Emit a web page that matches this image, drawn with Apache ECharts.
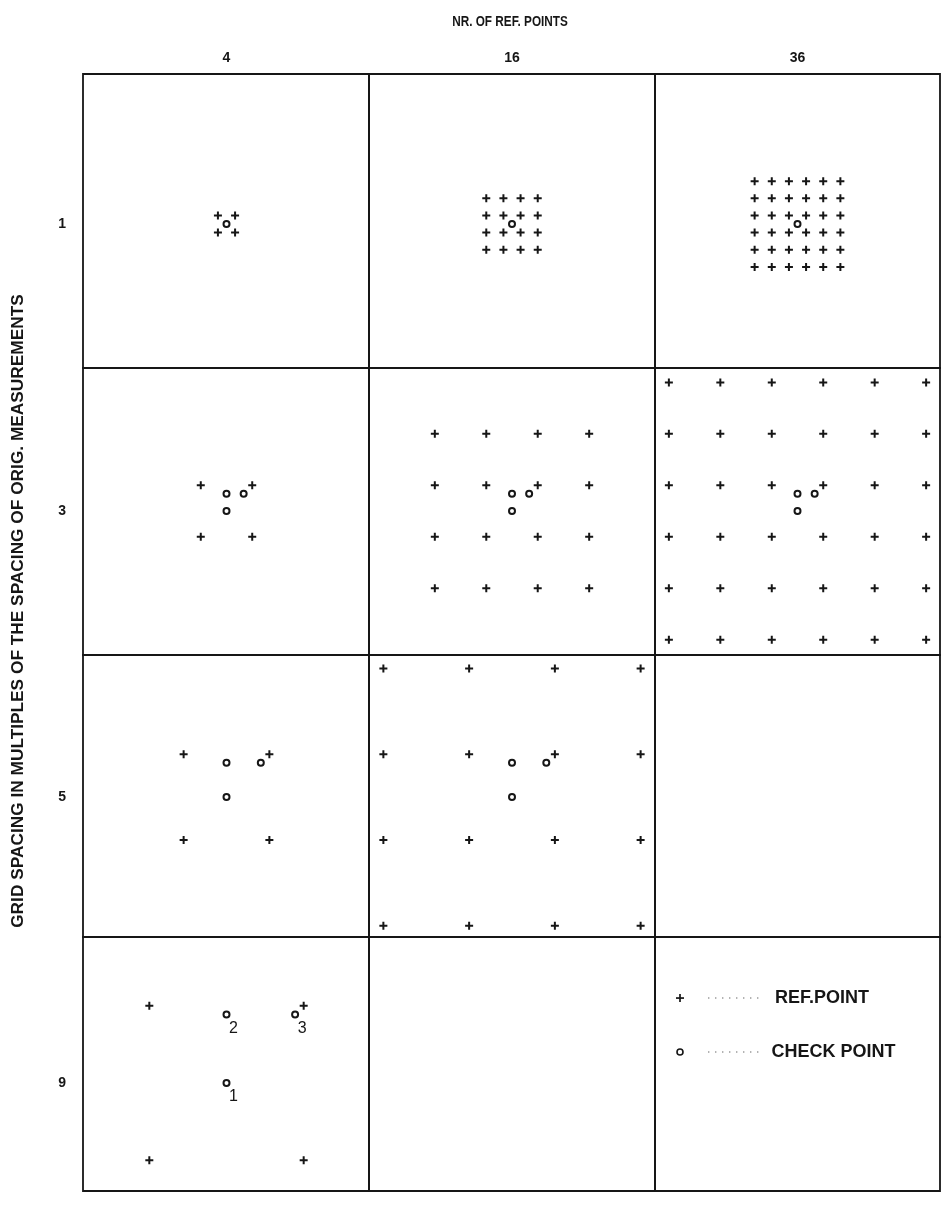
<!DOCTYPE html>
<html>
<head>
<meta charset="utf-8">
<script src="https://cdn.jsdelivr.net/npm/echarts@6/dist/echarts.min.js"></script>
<style>
  html, body { margin: 0; padding: 0; background: #fff; }
  #chart { width: 942px; height: 1231px; }
</style>
</head>
<body>
<div id="chart"></div>
<script>
// ---------- DATA ----------
const colLabels = ['4', '16', '36'];          // number of reference points
const rowLabels = ['1', '3', '5', '9'];       // grid spacing (multiples of original spacing)

// reference point positions (units of original measurement spacing, relative to pattern centre);
// the same list is used for x and y (square patterns)
const refPos_1_4  = [-0.5, 0.5];
const refPos_1_16 = [-1.5, -0.5, 0.5, 1.5];
const refPos_1_36 = [-2.5, -1.5, -0.5, 0.5, 1.5, 2.5];
const refPos_3_4  = [-1.5, 1.5];
const refPos_3_16 = [-4.5, -1.5, 1.5, 4.5];
const refPos_3_36 = [-7.5, -4.5, -1.5, 1.5, 4.5, 7.5];
const refPos_5_4  = [-2.5, 2.5];
const refPos_5_16 = [-7.5, -2.5, 2.5, 7.5];
const refPos_9_4  = [-4.5, 4.5];

// check points [x, y] (same units, y up)
const checkPts_1 = [[0, 0]];
const checkPts_3 = [[0, 0], [0, 1], [1, 1]];
const checkPts_5 = [[0, 0], [0, 2], [2, 2]];
const checkPts_9 = [[0, 0], [0, 4], [4, 4]];
const checkLabels_9 = ['1', '2', '3'];

const titleX = 'NR. OF REF. POINTS';
const titleY = 'GRID SPACING IN MULTIPLES OF THE SPACING OF ORIG. MEASUREMENTS';
const legendNames = ['REF.POINT', 'CHECK POINT'];

// ---------- LAYOUT ----------
const S = 17.15;                             // px per unit
const colEdges = [83, 369, 655, 940];
const rowEdges = [74, 368, 655, 937, 1191];
const colCentres = [226.5, 512, 797.5];
const rowCentres = [224, 511, 797, 1083];
const INK = '#161616';
const FONT = "'Liberation Sans', Arial, sans-serif";

const refSets = {
  '0_0': refPos_1_4, '0_1': refPos_1_16, '0_2': refPos_1_36,
  '1_0': refPos_3_4, '1_1': refPos_3_16, '1_2': refPos_3_36,
  '2_0': refPos_5_4, '2_1': refPos_5_16,
  '3_0': refPos_9_4
};
const checkSets = [checkPts_1, checkPts_3, checkPts_5, checkPts_9];

const PLUS = 'path://M3,0H5V3H8V5H5V8H3V5H0V3H3Z';

const grids = [], xAxes = [], yAxes = [], series = [];
for (let r = 0; r < 4; r++) {
  for (let c = 0; c < 3; c++) {
    const gi = grids.length;
    grids.push({
      left: colEdges[c], top: rowEdges[r],
      width: colEdges[c + 1] - colEdges[c], height: rowEdges[r + 1] - rowEdges[r],
      show: true, borderColor: INK, borderWidth: 1.8, backgroundColor: 'transparent'
    });
    xAxes.push({
      type: 'value', gridIndex: gi, position: 'top',
      min: (colEdges[c] - colCentres[c]) / S, max: (colEdges[c + 1] - colCentres[c]) / S,
      axisLine: { show: false }, axisTick: { show: false }, splitLine: { show: false },
      axisLabel: r === 0 ? {
        show: true, customValues: [0], margin: 9,
        formatter: () => colLabels[c],
        color: INK, fontFamily: FONT, fontWeight: 'bold', fontSize: 14
      } : { show: false }
    });
    yAxes.push({
      type: 'value', gridIndex: gi,
      min: -(rowEdges[r + 1] - rowCentres[r]) / S, max: (rowCentres[r] - rowEdges[r]) / S,
      axisLine: { show: false }, axisTick: { show: false }, splitLine: { show: false },
      axisLabel: c === 0 ? {
        show: true, customValues: [0], margin: 17,
        formatter: () => rowLabels[r],
        color: INK, fontFamily: FONT, fontWeight: 'bold', fontSize: 14
      } : { show: false }
    });
    const pos = refSets[r + '_' + c];
    if (pos) {
      const refData = [];
      pos.forEach(x => pos.forEach(y => refData.push([x, y])));
      series.push({
        name: legendNames[0], type: 'scatter', xAxisIndex: gi, yAxisIndex: gi,
        symbol: PLUS, symbolSize: 8, itemStyle: { color: INK, opacity: 1 }, silent: true,
        data: refData
      });
      const isLast = r === 3;
      series.push({
        name: legendNames[1], type: 'scatter', xAxisIndex: gi, yAxisIndex: gi,
        symbol: 'emptyCircle', symbolSize: 6, silent: true,
        itemStyle: { color: INK, borderColor: INK, borderWidth: 1.6, opacity: 1 },
        label: isLast ? {
          show: true, position: 'inside', offset: [7, 14],
          formatter: p => checkLabels_9[p.dataIndex],
          color: INK, fontFamily: FONT, fontSize: 16
        } : { show: false },
        data: checkSets[r]
      });
    }
  }
}

const chart = echarts.init(document.getElementById('chart'), null, { renderer: 'canvas' });
chart.setOption({
  backgroundColor: '#fff',
  animation: false,
  grid: grids,
  xAxis: xAxes,
  yAxis: yAxes,
  series: series,
  graphic: [
    {
      type: 'text', x: 510, y: 22, scaleX: 0.84,
      style: { text: titleX, fill: INK, font: 'bold 14px ' + FONT, align: 'center', verticalAlign: 'middle' }
    },
    {
      type: 'text', x: 18, y: 611, rotation: Math.PI / 2,
      style: { text: titleY, fill: INK, font: 'bold 17.3px ' + FONT, align: 'center', verticalAlign: 'middle' }
    },
    // legend: reference point
    { type: 'rect', shape: { x: 676, y: 997.2, width: 8, height: 1.7 }, style: { fill: INK } },
    { type: 'rect', shape: { x: 679.15, y: 994, width: 1.7, height: 8 }, style: { fill: INK } },
    { type: 'line', shape: { x1: 708, y1: 998, x2: 760, y2: 998 }, style: { stroke: '#9a9a9a', lineWidth: 1.4, lineDash: [1.4, 5.6] } },
    { type: 'text', x: 775, y: 998, style: { text: legendNames[0], fill: INK, font: 'bold 18px ' + FONT, verticalAlign: 'middle' } },
    // legend: check point
    { type: 'circle', shape: { cx: 680, cy: 1052, r: 3 }, style: { fill: '#fff', stroke: INK, lineWidth: 1.6 } },
    { type: 'line', shape: { x1: 708, y1: 1052, x2: 760, y2: 1052 }, style: { stroke: '#9a9a9a', lineWidth: 1.4, lineDash: [1.4, 5.6] } },
    { type: 'text', x: 771.5, y: 1052, style: { text: legendNames[1], fill: INK, font: 'bold 18px ' + FONT, verticalAlign: 'middle' } }
  ]
});
</script>
</body>
</html>
